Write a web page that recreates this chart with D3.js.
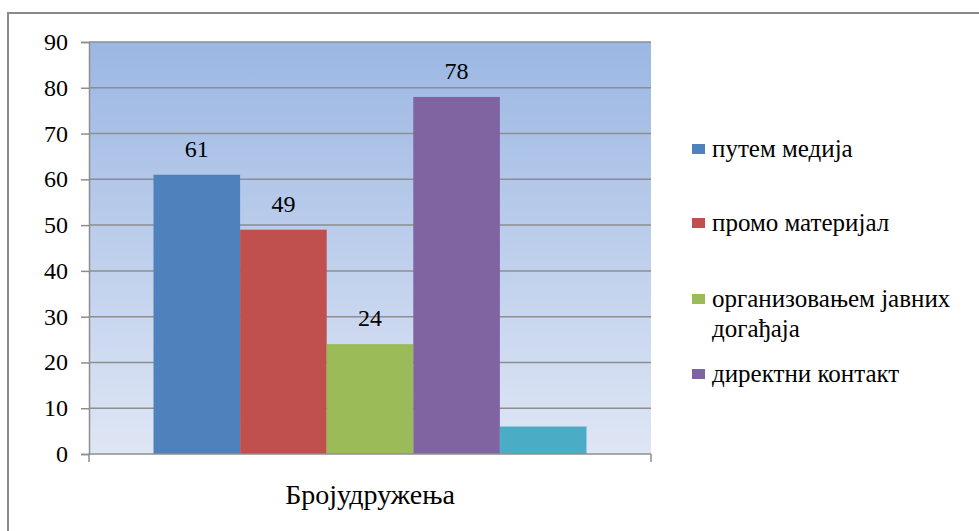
<!DOCTYPE html>
<html>
<head>
<meta charset="utf-8">
<script src="https://cdn.jsdelivr.net/npm/d3@7"></script>
</head>
<body style="margin:0">
<svg id="chart" width="979" height="531"></svg>
<script>
// Data
const categories = ["Бројудружења"];
const seriesNames = ["путем медија", "промо материјал", "организовањем јавних догађаја", "директни контакт", ""];
const seriesValues = [61, 49, 24, 78, 6];
const seriesColors = ["#4f81bd", "#c0504d", "#9bbb59", "#8064a2", "#4bacc6"];
const showLabel = [true, true, true, true, false];
const legendLines = [["путем медија"], ["промо материјал"], ["организовањем јавних", "догађаја"], ["директни контакт"]];
const yTicks = [0, 10, 20, 30, 40, 50, 60, 70, 80, 90];

const FONT = '"Liberation Serif"';
const svg = d3.select("#chart");
const plot = { left: 89, right: 651, top: 42, bottom: 454 };

// Outer chart frame
svg.append("rect")
  .attr("x", 8).attr("y", 13).attr("width", 980).attr("height", 530)
  .attr("fill", "none").attr("stroke", "#8a8a8a").attr("stroke-width", 2);

// Plot background gradient
const defs = svg.append("defs");
const grad = defs.append("linearGradient").attr("id", "bg").attr("x1", 0).attr("y1", 0).attr("x2", 0).attr("y2", 1);
grad.append("stop").attr("offset", "0%").attr("stop-color", "#9bb7e3");
grad.append("stop").attr("offset", "100%").attr("stop-color", "#dfe6f5");

svg.append("rect")
  .attr("x", plot.left).attr("y", plot.top)
  .attr("width", plot.right - plot.left).attr("height", plot.bottom - plot.top)
  .attr("fill", "url(#bg)");

const y = d3.scaleLinear().domain([0, 90]).range([plot.bottom, plot.top]);
const x0 = d3.scaleBand().domain(categories).range([plot.left, plot.right]).paddingInner(0).paddingOuter(0.149);
const x1 = d3.scaleBand().domain(d3.range(seriesValues.length)).range([0, x0.bandwidth()]).padding(0);

// Gridlines
svg.append("g").selectAll("line").data(yTicks.filter(t => t > 0)).join("line")
  .attr("x1", plot.left).attr("x2", plot.right)
  .attr("y1", d => y(d)).attr("y2", d => y(d))
  .attr("stroke", "#8e8e8e").attr("stroke-width", 1.5);

// Y axis (ticks drawn by d3.axisLeft, labels added as plain text)
const yAxis = d3.axisLeft(y).tickValues(yTicks).tickSize(8).tickFormat("");
const gy = svg.append("g").attr("transform", `translate(${plot.left},0)`).call(yAxis);
gy.select(".domain").attr("stroke", "#8e8e8e").attr("stroke-width", 1.5);
gy.selectAll(".tick line").attr("stroke", "#8e8e8e").attr("stroke-width", 1.5);
svg.append("g").selectAll("text").data(yTicks).join("text")
  .attr("x", plot.left - 21)
  .attr("y", d => y(d) + 8)
  .attr("text-anchor", "end")
  .attr("font-size", 24)
  .style("font-family", FONT)
  .text(d => d);

// Bars
const group = svg.append("g").attr("transform", `translate(${x0(categories[0])},0)`);
group.selectAll("rect").data(seriesValues).join("rect")
  .attr("x", (d, i) => x1(i))
  .attr("width", x1.bandwidth())
  .attr("y", d => y(d))
  .attr("height", d => y(0) - y(d))
  .attr("fill", (d, i) => seriesColors[i]);

// Value labels
group.selectAll("text.val").data(seriesValues.map((v, i) => ({ v, i })).filter(d => showLabel[d.i])).join("text")
  .attr("class", "val")
  .attr("x", d => x1(d.i) + x1.bandwidth() / 2)
  .attr("y", d => y(d.v) - 18)
  .attr("text-anchor", "middle")
  .attr("font-size", 24)
  .style("font-family", FONT)
  .text(d => d.v);

// X axis
const xAxisLine = svg.append("g");
xAxisLine.append("line")
  .attr("x1", plot.left).attr("x2", plot.right)
  .attr("y1", y(0)).attr("y2", y(0))
  .attr("stroke", "#8e8e8e").attr("stroke-width", 1.5);
xAxisLine.selectAll("line.tk").data([plot.left, plot.right]).join("line")
  .attr("class", "tk")
  .attr("x1", d => d).attr("x2", d => d)
  .attr("y1", y(0)).attr("y2", y(0) + 8)
  .attr("stroke", "#8e8e8e").attr("stroke-width", 1.5);
svg.append("text")
  .attr("x", x0(categories[0]) + x0.bandwidth() / 2)
  .attr("y", 504)
  .attr("text-anchor", "middle")
  .attr("font-size", 28)
  .style("font-family", FONT)
  .text(categories[0]);

// Legend
const legendY = [157, 231, 307, 382];
const legend = svg.append("g");
legendLines.forEach((lines, i) => {
  legend.append("rect")
    .attr("x", 692).attr("y", legendY[i] - 13)
    .attr("width", 13).attr("height", 10)
    .attr("fill", seriesColors[i]);
  lines.forEach((ln, k) => {
    legend.append("text")
      .attr("x", 712).attr("y", legendY[i] + k * 30)
      .attr("font-size", 25)
      .style("font-family", FONT)
      .text(ln);
  });
});
</script>
</body>
</html>
